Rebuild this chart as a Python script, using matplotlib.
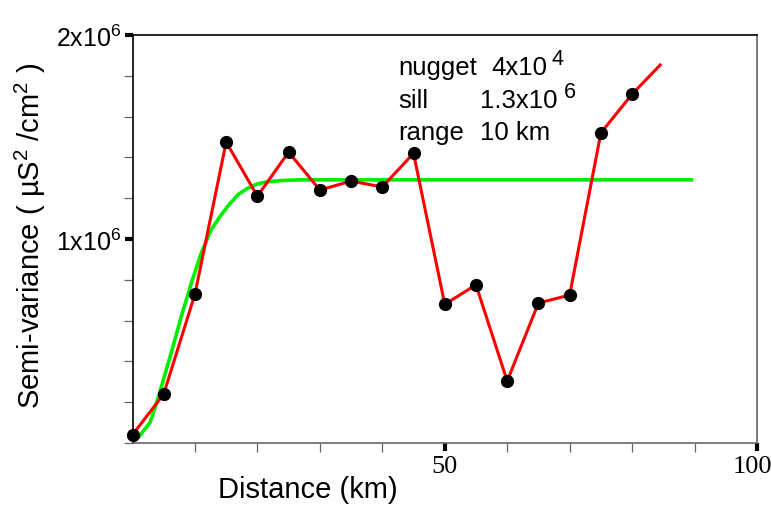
import matplotlib
matplotlib.use("Agg")
import matplotlib.pyplot as plt
import matplotlib.transforms as mtransforms
from matplotlib.ticker import MultipleLocator, FixedLocator

plt.rcParams['font.family'] = ['Liberation Sans', 'DejaVu Sans']
plt.rcParams['mathtext.fontset'] = 'custom'
plt.rcParams['mathtext.rm'] = 'Liberation Sans'
plt.rcParams['mathtext.default'] = 'regular'

# experimental semivariogram (lag in km, semi-variance)
lag = [0, 5, 10, 15, 20, 25, 30, 35, 40, 45, 50, 55, 60, 65, 70, 75, 80, 84.5]
semivar = [0.04e6, 0.24e6, 0.73e6, 1.475e6, 1.21e6, 1.426e6, 1.24e6, 1.284e6,
           1.255e6, 1.42e6, 0.68e6, 0.775e6, 0.304e6, 0.686e6, 0.725e6,
           1.52e6, 1.71e6, 1.853e6]
n_marked = 17  # last point of the red line has no marker

# fitted model
model_lag = [1.0, 2.8, 3.8, 6.0, 8.0, 9.7, 11.0, 12.5, 14.0, 15.5, 17.0,
             18.5, 20.0, 21.5, 24.0, 27.0, 30.0, 89.5]
model_val = [0.03e6, 0.10e6, 0.19e6, 0.42e6, 0.64e6, 0.81e6, 0.93e6, 1.04e6,
             1.11e6, 1.17e6, 1.22e6, 1.25e6, 1.27e6, 1.28e6, 1.287e6,
             1.29e6, 1.29e6, 1.29e6]

ytick_vals = [1e6, 2e6]
ytick_labels = ['1x10$^{6}$', '2x10$^{6}$']
xtick_vals = [50, 100]
xtick_labels = ['50', '100']

# model parameter lines: (name, value, exponent)
params = [('nugget', '4x10', '4'), ('sill', '1.3x10', '6'), ('range', '10 km', '')]

fig = plt.figure(figsize=(7.72, 5.1), dpi=100)
ax = fig.add_axes([132.5/772, 1 - 444/510, (757-132.5)/772, (444-36)/510])

ax.plot(model_lag, model_val, color='#00ee00', lw=2.6, zorder=2, clip_on=False)
ax.plot(lag, semivar, color='red', lw=2.2, zorder=3, clip_on=False)
ax.plot(lag[:n_marked], semivar[:n_marked], 'o', color='black', ms=8.5,
        zorder=4, clip_on=False)

ax.set_xlim(0, 100)
ax.set_ylim(0, 2e6)

ax.xaxis.set_major_locator(FixedLocator(xtick_vals))
ax.set_xticklabels(xtick_labels, family='Liberation Serif', fontsize=19)
ax.xaxis.set_minor_locator(FixedLocator([10, 20, 30, 40, 60, 70, 80, 90]))
ax.yaxis.set_major_locator(FixedLocator(ytick_vals))
ax.set_yticklabels(ytick_labels, fontsize=18)
ax.yaxis.set_minor_locator(MultipleLocator(0.2e6))

ax.tick_params(which='major', direction='out', length=6, width=3, color='black')
ax.tick_params(which='minor', direction='out', length=6.5, width=0.9, color='#666666')
ax.tick_params(axis='x', which='major', pad=3)
ax.tick_params(axis='y', which='major', pad=2)
ax.tick_params(top=False, right=False)

# last x label sits at the figure edge, nudge it left a little
lbl = ax.get_xticklabels()[-1]
lbl.set_transform(lbl.get_transform() +
                  mtransforms.ScaledTranslation(-5/100, 0, fig.dpi_scale_trans))

for side in ['left', 'top']:
    ax.spines[side].set_color('black')
    ax.spines[side].set_linewidth(1.2)
for side in ['bottom', 'right']:
    ax.spines[side].set_color('#666666')
    ax.spines[side].set_linewidth(1.2)

ax.set_xlabel('Distance (km)', fontsize=21)
ax.xaxis.set_label_coords(0.281, -0.113)
ax.xaxis.label.set_va('center')
ax.set_ylabel('Semi-variance ( µS$^{2}$ /cm$^{2}$ )', fontsize=21)
ax.yaxis.set_label_coords(-0.164, 0.51)
ax.yaxis.label.set_va('center')

# model parameters
fs = 18.5
baselines = [75, 108, 140]
value_x = [491, 480, 480]
sup_x = [552, 564, 0]
for (name, val, sup), yb, vx, sx in zip(params, baselines, value_x, sup_x):
    fig.text(398/772, 1 - yb/510, name, fontsize=fs, va='baseline')
    fig.text(vx/772, 1 - yb/510, val, fontsize=fs, va='baseline')
    if sup:
        fig.text(sx/772, 1 - (yb - 10)/510, sup, fontsize=15.5, va='baseline')

fig.savefig('out.png', dpi=100)
